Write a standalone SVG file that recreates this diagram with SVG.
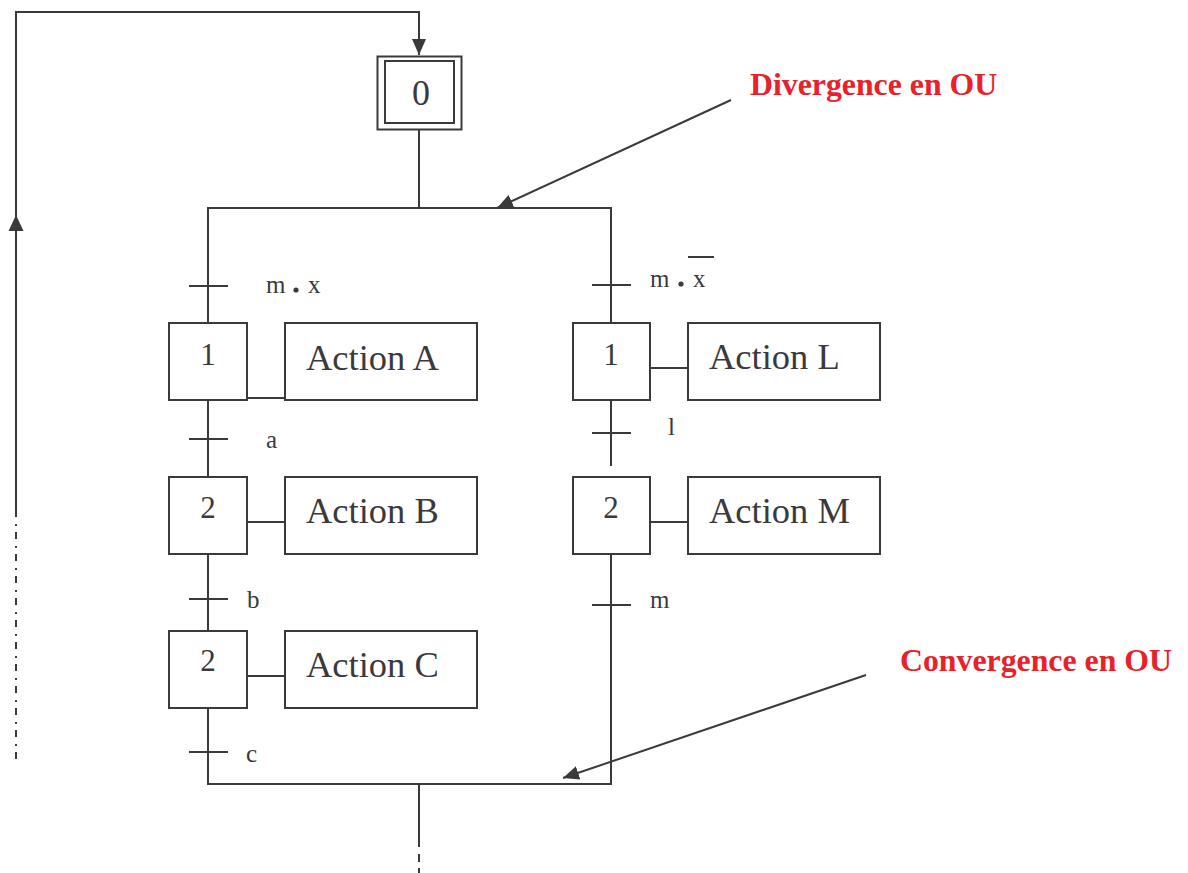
<svg xmlns="http://www.w3.org/2000/svg" width="1188" height="873" viewBox="0 0 1188 873">
  <defs>
    <style>
      .ln { fill: none; stroke: #3a3a3d; stroke-width: 2; }
      .box { fill: #ffffff; stroke: #3a3a3d; stroke-width: 2; }
      .num { font-family: "Liberation Serif", "Times New Roman", serif; font-size: 31px; fill: #3a3a3d; text-anchor: middle; }
      .act { font-family: "Liberation Serif", "Times New Roman", serif; font-size: 36.5px; fill: #3a3a3d; }
      .cond { font-family: "Liberation Serif", "Times New Roman", serif; font-size: 25px; fill: #3a3a3d; }
      .note { font-family: "Liberation Serif", "Times New Roman", serif; font-size: 31.8px; font-weight: bold; fill: #e8212b; }
    </style>
    <marker id="head" viewBox="0 0 16 14" refX="16" refY="7" markerWidth="16" markerHeight="14" markerUnits="userSpaceOnUse" orient="auto">
      <path d="M0,0 L16,7 L0,14 Z" fill="#3a3a3d"/>
    </marker>
  </defs>

  <!-- connectors: loop-back, divergence / convergence bars, step links -->
  <g id="connectors">
    <!-- loop back to initial step -->
    <path class="ln" d="M16,517 V12 H419 V55" marker-end="url(#head)"/>
    <path d="M16,215 L8.5,231 L23.5,231 Z" fill="#3a3a3d"/>
    <path class="ln" d="M16,524 V760" stroke-dasharray="2 6 7 7"/>
    <!-- initial step down to divergence bar -->
    <path class="ln" d="M419,130 V208"/>
    <path class="ln" d="M208,323 V208 H611 V323"/>
    <!-- left branch -->
    <path class="ln" d="M208,400 V477"/>
    <path class="ln" d="M208,554 V631"/>
    <path class="ln" d="M208,708 V784 H611 V554"/>
    <!-- right branch -->
    <path class="ln" d="M611,400 V466"/>
    <!-- after convergence -->
    <path class="ln" d="M419,784 V847"/>
    <path class="ln" d="M419,854 V873" stroke-dasharray="8 6"/>
    <!-- transitions -->
    <path class="ln" d="M189,286 H228 M189,439 H228 M189,599 H228 M189,752 H228"/>
    <path class="ln" d="M592,285 H631 M592,433 H631 M592,605 H631"/>
    <!-- step to action links -->
    <path class="ln" d="M247,398 H285 M247,522 H285 M247,676 H285"/>
    <path class="ln" d="M650,368 H688 M650,522 H688"/>
    <!-- annotation pointers -->
    <path class="ln" d="M731,100 L497,208" marker-end="url(#head)"/>
    <path class="ln" d="M866,675 L563,778" marker-end="url(#head)"/>
  </g>

  <!-- initial step -->
  <g id="step0">
    <rect class="box" x="377.5" y="56.5" width="84" height="73"/>
    <rect class="box" x="385" y="61" width="69" height="62"/>
    <text x="421" y="105" class="num" style="font-size:36px">0</text>
  </g>

  <!-- left branch -->
  <g id="t-mx">
    <text x="266" y="293" class="cond">m</text>
    <circle cx="296" cy="290" r="2.6" fill="#3a3a3d"/>
    <text x="308" y="293" class="cond">x</text>
  </g>
  <g id="stepA1">
    <rect class="box" x="169" y="323" width="78" height="77"/>
    <text x="208" y="365" class="num">1</text>
  </g>
  <g id="actionA">
    <rect class="box" x="285" y="323" width="192" height="77"/>
    <text x="306" y="370" class="act">Action A</text>
  </g>
  <g id="t-a"><text x="266" y="448" class="cond">a</text></g>
  <g id="stepA2">
    <rect class="box" x="169" y="477" width="78" height="77"/>
    <text x="208" y="518" class="num">2</text>
  </g>
  <g id="actionB">
    <rect class="box" x="285" y="477" width="192" height="77"/>
    <text x="306" y="523" class="act">Action B</text>
  </g>
  <g id="t-b"><text x="247" y="608" class="cond">b</text></g>
  <g id="stepA3">
    <rect class="box" x="169" y="631" width="78" height="77"/>
    <text x="208" y="671" class="num">2</text>
  </g>
  <g id="actionC">
    <rect class="box" x="285" y="631" width="192" height="77"/>
    <text x="306" y="677" class="act">Action C</text>
  </g>
  <g id="t-c"><text x="246" y="762" class="cond">c</text></g>

  <!-- right branch -->
  <g id="t-mxbar">
    <text x="650" y="287" class="cond">m</text>
    <circle cx="681" cy="284" r="2.6" fill="#3a3a3d"/>
    <text x="693" y="287" class="cond">x</text>
    <line x1="688" y1="257" x2="714" y2="257" class="ln"/>
  </g>
  <g id="stepL1">
    <rect class="box" x="573" y="323" width="77" height="77"/>
    <text x="611" y="365" class="num">1</text>
  </g>
  <g id="actionL">
    <rect class="box" x="688" y="323" width="192" height="77"/>
    <text x="709" y="369" class="act">Action L</text>
  </g>
  <g id="t-l"><text x="668" y="435" class="cond">l</text></g>
  <g id="stepL2">
    <rect class="box" x="573" y="477" width="77" height="77"/>
    <text x="611" y="518" class="num">2</text>
  </g>
  <g id="actionM">
    <rect class="box" x="688" y="477" width="192" height="77"/>
    <text x="709" y="523" class="act">Action M</text>
  </g>
  <g id="t-m"><text x="650" y="608" class="cond">m</text></g>

  <!-- annotations -->
  <g id="note-div"><text x="750" y="95" class="note">Divergence en OU</text></g>
  <g id="note-conv"><text x="900" y="671" class="note">Convergence en OU</text></g>
</svg>
